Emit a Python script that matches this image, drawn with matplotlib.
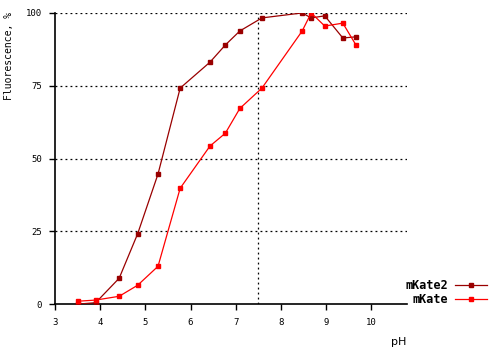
import matplotlib
matplotlib.use('Agg')
from matplotlib import pyplot as plt

# pH values and fluorescence (%)
ph_mkate2 = [3.5, 3.9, 4.42, 4.83, 5.28, 5.77, 6.43, 6.77, 7.09, 7.58, 8.47, 8.67, 8.97, 9.37, 9.66]
fl_mkate2 = [0.0, 0.5, 8.9, 24.2, 44.7, 74.2, 83.1, 89.0, 93.8, 98.3, 100.0, 98.3, 99.0, 91.4, 91.8]

ph_mkate = [3.5, 3.9, 4.42, 4.83, 5.28, 5.77, 6.43, 6.77, 7.09, 7.58, 8.47, 8.67, 8.97, 9.37, 9.66]
fl_mkate = [1.0, 1.4, 2.7, 6.5, 13.0, 39.8, 54.3, 58.7, 67.2, 74.2, 93.8, 100.0, 95.5, 96.5, 89.0]

y_grid = [25, 50, 75, 100]
x_marker = 7.5
x_ticks = [3, 4, 5, 6, 7, 8, 9, 10]
y_ticks = [0, 25, 50, 75, 100]

mono = 'DejaVu Sans Mono'

fig = plt.figure(figsize=(5, 3.5), dpi=100)
ax = fig.add_axes([0.11, 0.131, 0.704, 0.832])

for yv in y_grid:
    ax.axhline(yv, color='black', lw=0.9, ls=(0, (1.5, 2.5)), zorder=1)
ax.axvline(x_marker, color='black', lw=0.9, ls=(0, (1.5, 2.5)), zorder=1)

ax.plot(ph_mkate2, fl_mkate2, color='#990000', lw=0.9, marker='s', ms=2.6,
        label='mKate2', zorder=3)
ax.plot(ph_mkate, fl_mkate, color='#ff0000', lw=0.9, marker='s', ms=2.6,
        label='mKate', zorder=3)

ax.set_xlim(3, 10.79)
ax.set_ylim(0, 100)
ax.set_xticks(x_ticks)
ax.set_yticks(y_ticks)
ax.set_xticklabels([str(t) for t in x_ticks], fontsize=6.5, family=mono)
ax.set_yticklabels([str(t) for t in y_ticks], fontsize=6.5, family=mono)
ax.tick_params(axis='x', length=4, width=1, pad=6)
ax.tick_params(axis='y', length=4, width=1, pad=5.5)

ax.spines['top'].set_visible(False)
ax.spines['right'].set_visible(False)
ax.spines['left'].set_linewidth(1.2)
ax.spines['bottom'].set_linewidth(1.2)

fig.text(0.018, 1 - 56 / 350, 'Fluorescence, %', fontsize=7, family=mono,
         rotation=90, ha='center', va='center')
fig.text(0.798, 1 - 342 / 350, 'pH', fontsize=8, ha='center', va='center')

leg = ax.legend(loc='center left', bbox_to_anchor=(0.966, 0.04), frameon=False,
                markerfirst=False, handlelength=2.7, handletextpad=0.6,
                labelspacing=0.1, prop={'family': mono, 'weight': 'bold', 'size': 8.5})
for t in leg.get_texts():
    t.set_ha('right')

fig.savefig('out.png', dpi=100)
